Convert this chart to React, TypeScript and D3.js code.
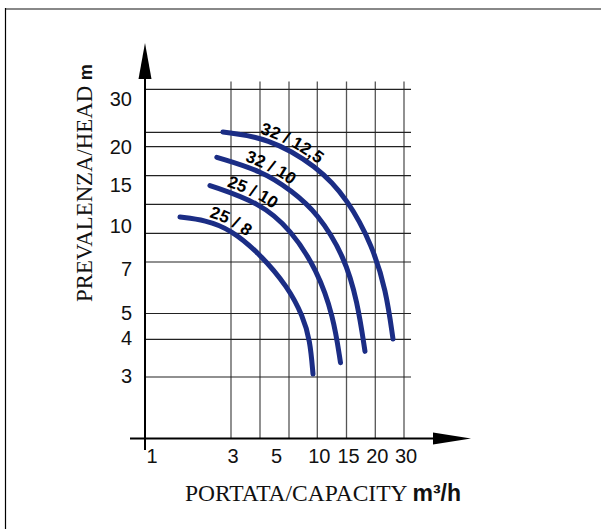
import React from 'react';
import * as d3 from 'd3';

// ---- data ----
const xTickLabels = [1, 3, 5, 10, 15, 20, 30];
const xGridValues = [3, 4, 6, 10, 15, 20, 30];
const yTickLabels = [3, 4, 5, 7, 10, 15, 20, 30];
const yGridValues = [3, 4, 5, 7, 10, 12, 15, 20, 25, 30];

const curveNames = ['25 / 8', '25 / 10', '32 / 10', '32 / 12,5'];
const flow25_8 = [1.74, 2.36, 3, 4, 5.93, 7.98, 8.97, 9.39];
const head25_8 = [11.12, 10.92, 10.26, 7.84, 6.03, 4.88, 3.98, 3.08];
const flow25_10 = [2.48, 4, 6.28, 9.96, 12.76, 13.97];
const head25_10 = [13.97, 12.16, 10.24, 6.69, 4.9, 3.38];
const flow32_10 = [2.65, 4.14, 6.35, 10.03, 14.66, 16.91, 18.21];
const head32_10 = [18.17, 15.81, 13.44, 11.4, 7.57, 5.45, 3.68];
const flow32_125 = [2.8, 4.52, 9.96, 15.26, 19.51, 23.73, 26.17];
const head32_125 = [25.03, 23.19, 16.67, 12.5, 8.67, 5.91, 4.01];

const curveFlows = [flow25_8, flow25_10, flow32_10, flow32_125];
const curveHeads = [head25_8, head25_10, head32_10, head32_125];

// ---- layout ----
const W = 601;
const H = 529;
const labelStart = [29, 16, 28, 37];
const CURVE_COLOR = '#1b2d85';

const xScale = d3
  .scaleLinear()
  .domain([1, 3, 4, 6, 10, 15, 20, 30])
  .range([150, 231, 260, 289, 317.3, 346.5, 375.3, 404]);
const yScale = d3
  .scaleLinear()
  .domain([3, 4, 5, 7, 10, 12, 15, 20, 25, 30])
  .range([377, 339.3, 313.5, 262, 233.3, 204.3, 175.7, 146.7, 132.3, 89.3]);
const yLabelScale = d3
  .scaleLinear()
  .domain([3, 4, 5, 7, 10, 15, 20, 30])
  .range([375.5, 337.5, 312.5, 269, 225.5, 184.5, 147, 99]);

const axisX = 145;
const axisY = 438.5;
const gridRight = 411;
const gridTop = 81.5;

function offsetPoints(pts: [number, number][], d: number): [number, number][] {
  return pts.map((p, i) => {
    const a = pts[Math.max(0, i - 1)];
    const b = pts[Math.min(pts.length - 1, i + 1)];
    const dx = b[0] - a[0];
    const dy = b[1] - a[1];
    const L = Math.hypot(dx, dy) || 1;
    return [p[0] + (dy / L) * d, p[1] - (dx / L) * d];
  });
}

const line = d3.line<[number, number]>().curve(d3.curveBasis);

export default function App() {
  const sans = '"Liberation Sans", Arial, Helvetica, sans-serif';
  const serif = '"Liberation Serif", "Times New Roman", serif';

  const curves = curveFlows.map((fl, ci) => {
    const pts: [number, number][] = fl.map((f, i) => [xScale(f), yScale(curveHeads[ci][i])]);
    return { pts, off: offsetPoints(pts, 4.8) };
  });

  return (
    <svg
      width={W}
      height={H}
      style={{ position: 'absolute', left: 0, top: 0, background: '#fff' }}
    >
      <rect x={0} y={0} width={W} height={H} fill="#fff" />
      {/* frame */}
      <line x1={5} y1={9} x2={W} y2={9} stroke="#888" strokeWidth={2} />
      <line x1={5.5} y1={8} x2={5.5} y2={H} stroke="#000" strokeWidth={1.2} />

      {/* vertical grid */}
      {xGridValues.map((v) => (
        <line
          key={'vx' + v}
          x1={xScale(v)}
          x2={xScale(v)}
          y1={gridTop}
          y2={axisY}
          stroke="#555"
          strokeWidth={1.3}
        />
      ))}
      {/* horizontal grid */}
      {yGridValues.map((v) => (
        <line
          key={'hy' + v}
          x1={axisX}
          x2={gridRight}
          y1={yScale(v)}
          y2={yScale(v)}
          stroke="#222"
          strokeWidth={1.2}
        />
      ))}

      {/* axes */}
      <line x1={axisX} x2={axisX} y1={78} y2={450} stroke="#000" strokeWidth={2} />
      <path d={`M${axisX},43 L${axisX - 6.5},79 L${axisX + 6.5},79 Z`} fill="#000" />
      <line x1={130} x2={434} y1={axisY} y2={axisY} stroke="#000" strokeWidth={2} />
      <path d={`M471,${axisY} L433,${axisY - 6} L433,${axisY + 6} Z`} fill="#000" />

      {/* y tick labels */}
      {yTickLabels.map((v) => (
        <text
          key={'yl' + v}
          x={132}
          y={yLabelScale(v)}
          dy="0.36em"
          textAnchor="end"
          fontFamily={sans}
          fontSize={20}
          fill="#111"
        >
          {v}
        </text>
      ))}
      {/* x tick labels */}
      {xTickLabels.map((v) => (
        <text
          key={'xl' + v}
          x={xScale(v) + 2}
          y={463}
          textAnchor="middle"
          fontFamily={sans}
          fontSize={20}
          fill="#111"
        >
          {v}
        </text>
      ))}

      {/* curves */}
      {curves.map((c, i) => (
        <g key={'c' + i}>
          <path
            d={line(c.pts) || ''}
            fill="none"
            stroke={CURVE_COLOR}
            strokeWidth={5}
            strokeLinecap="round"
          />
          <path id={'lp' + i} d={line(c.off) || ''} fill="none" stroke="none" />
          <text fontFamily={sans} fontSize={17} fontWeight="bold" fill="#000">
            <textPath href={'#lp' + i} startOffset={labelStart[i]}>
              {curveNames[i]}
            </textPath>
          </text>
        </g>
      ))}

      {/* axis titles */}
      <text
        transform="translate(91.5,302) rotate(-90)"
        fontFamily={serif}
        fontSize={22.8}
        fill="#111"
      >
        PREVALENZA/HEAD{' '}
        <tspan fontFamily={sans} fontWeight="bold" fontSize={18}>
          m
        </tspan>
      </text>
      <text x={185} y={501} fontFamily={serif} fontSize={23.5} fill="#111">
        PORTATA/CAPACITY{' '}
        <tspan fontFamily={sans} fontWeight="bold" fontSize={23}>
          m³/h
        </tspan>
      </text>
    </svg>
  );
}
